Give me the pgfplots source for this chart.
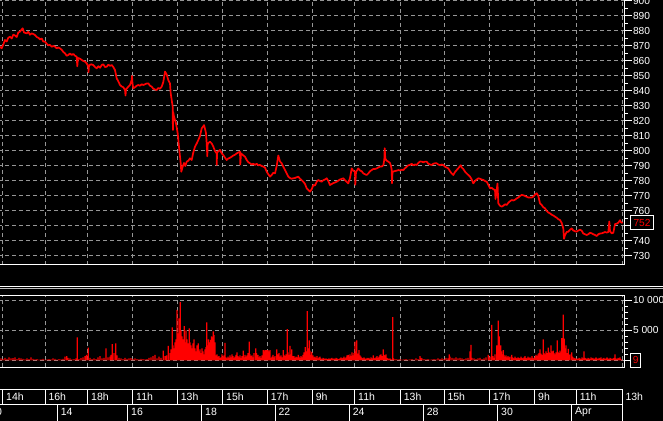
\documentclass[border=0pt]{standalone}
\usepackage{pgfplots}
\pgfplotsset{compat=1.18}
\usepackage{fontspec}
\setmainfont{Liberation Sans}
\definecolor{gridgray}{RGB}{150,150,150}
\definecolor{sepgray}{RGB}{190,190,190}
\definecolor{chartred}{RGB}{255,0,0}

\pgfplotstableread{
x v
0 869.5
1.7 868.5
3.3 871
5 874
6.7 873
8.3 875.5
10 876.2
11.7 875
13.3 877.5
15 877
16.7 876
18.3 879
20 879.6
21.7 881
22.7 881.8
24 879
26.7 878.4
28.3 879.5
30 877.5
31.7 878.4
33.3 878
35 877.3
36.7 876
38.3 875.5
40 874.4
41.7 875
43.3 873
45 872.9
46.7 871.5
48.3 870.5
50 870.7
51.7 869.5
53.3 870
55 869.6
56.7 868.5
58.3 869
60 868.4
61.7 867.5
63.3 866
65 865.1
66.7 863.5
68.3 864
70 865
71.7 864
73.3 864.7
75 863.5
76.7 862.9
77.3 856.5
78 862
80 861.5
81.7 860.7
83.3 860
85 859.6
86.7 858.5
88.3 856.2
88.5 852.5
89 857
91 857.8
93.3 857.3
95 856
96.7 855.1
98.3 856.5
100 855.5
101.7 857.3
103.3 857.8
105 856
106.7 856.2
108.3 857.5
110 856.8
111.7 857.3
113.3 856
115 854
116.7 848.4
118.3 846.5
120 844
121.7 843
123.3 842.5
125 840.7
125.5 837
126 841
128.3 842.9
130 844
131.7 847.3
132 850
132.5 845
133.3 841.8
135 842.5
136.7 843.5
138.3 844
140 843.5
141.7 844.5
143.3 844
145 844.5
146.7 845
148.3 845.1
150 843.5
151.7 842.9
153.3 841.5
155 841
156.7 840.7
158.3 842
160 841.5
161.7 842.9
163.3 846
165 852.9
166.7 851
168.3 847.3
170 845
170.7 838.4
172.7 829.5
172.9 814
173.2 826
174 822.9
176 818.4
177.7 811.8
179.3 800.7
180.7 791.8
181.3 786.2
182.7 789.6
184 792
185.3 790
186.7 792.9
188.3 793.5
190 795.1
191.7 794
193.3 799
195 802.9
196.7 805
198.3 807.3
200 810
201.7 815.1
203.3 816.5
204 817.3
205.3 814
206 811.8
206.7 805.1
207.3 796.5
207.7 805
210 806.2
211.7 805
213.3 802.9
215 800
216.7 798.4
216.8 790.7
217 799
220 800.7
221.7 798.5
223.3 797.3
225 795.5
226.7 794
228.3 795
230 795.5
231.7 796.2
233.3 797
235 797.5
236.7 798.4
238.3 799
240 799.5
240.3 791
241 798.5
243.3 797
245 796.2
246.7 794
248.3 792.5
250 791.8
251.7 791
253.3 791.5
255 790.7
256.7 791.5
258.3 790.5
260 790.7
261.7 790
263.3 789.6
265 789
266.7 786.2
268.3 784.5
270 782.9
271.7 784
273.3 785.5
275 785.1
276.7 790
278.3 797
280 793
281.7 791.8
283.3 789.5
285 787.3
286.7 785
288.3 782.9
290 782
291.7 781.5
293.3 781.8
295 782
296.7 782.5
298.3 782.9
300 781.5
301.7 780.5
303.3 779.5
305 778
306.7 775.1
308.3 774
310 772.9
311.7 774.5
313.3 777.3
315 777
316.7 779.5
318.3 780.7
320 780
321.7 779.5
323.3 780.5
325 781
326.7 781.8
328.3 780
330 777.3
333 778.5
336.7 779.5
340 781
343.3 781.8
345 780.5
348.3 778.4
350 782
351.7 788.4
353 787
355 786.2
355.3 777.5
356 786
358.3 788.4
360 787
361.7 786.5
363.3 785.1
365 784.5
366.7 784
368.3 785
370 786.5
371.7 787.3
373.3 788
375 788
376.7 788.4
378.3 789
380 789.6
381.7 789.6
383.3 790.5
384.3 794
384.7 801.8
385.3 795
386.7 793.5
388.3 792.9
390 792
391 790
391.7 787.3
392 778.5
392.5 786
394 786.5
396.7 786.9
398.3 787.3
400 787
401.7 787.5
403.3 787.3
405 788.5
406.7 789.5
408.3 790.5
410 790.7
411.7 791.5
413.3 790.5
415 791
416.7 790.7
418.3 792
420 793
421.7 792.9
423.3 792.5
425 792.9
426.7 792.9
428.3 791.5
430 791
431.7 790.7
433.3 791.5
435 791.8
436.7 791.8
438.3 791
440 790.5
441.7 791
443.3 790.7
445 789.5
446.7 789
448.3 788.4
450 786.5
451.7 785
453.3 784
455 786
456.7 787.3
458.3 788.5
460.7 790.5
461.7 789
463.3 788
465 786.2
466.7 785
468.3 784
470 782.9
471.7 781
473.3 778.4
475 780
476.7 781
478.3 781.8
480 781.5
481.7 781
483.3 780.7
485 780
486.7 779.5
488.3 777.5
490 775.1
491.7 775.5
493.3 774.5
495 774
495.5 768
496.7 774
497.5 778.4
498.3 765.1
500 763.5
501.7 762.9
503.3 763.5
505 764.5
506.7 764
508.3 765.5
510 766.5
511.7 767.3
513.3 767
515 767.5
516.7 768.4
518.3 769
520 770
521.7 770.7
523.3 770.5
525 770
526.7 769.5
528.3 769
530 769
531.7 769
533.3 769.5
535 771
536.7 771.8
538.3 770
540 765.1
541.7 764
543.3 762.5
545 761.8
546.7 760
548.3 759
550 758.4
551.7 757.5
553.3 757
555 756.2
556.7 755.5
558.3 754.5
560 754
561.7 752
563.3 748.4
564 741.5
565 744
566.7 746
568.3 746.2
570 747.5
571.7 748.4
573.3 747
575 746.5
576.7 746.2
578.3 747
580 747.5
581.7 746.9
583.3 745
585 744.5
586.7 744
588.3 744.5
590 745.5
591.7 745.1
593.3 744.5
595 744
596.7 743.3
598.3 744.5
600 745
601.7 745.1
603.3 745.5
605 746
606.7 745.6
608.3 746
609.3 753
610 746.5
611.7 745.1
613.3 745.5
615 751.3
616.7 751.5
618.3 752.2
620 753.8
621 752.5
622.5 752
}\pricedata

\pgfplotstableread{
x v
1 300
3 200
5 400
7 250
9 500
11 300
13 350
15 500
17 200
19 400
21 300
23 250
25 150
27 300
29 200
31 500
33 250
35 150
37 200
39 100
41 150
43 250
45 100
47 150
49 200
51 150
53 300
55 250
57 100
59 200
61 150
63 250
65 600
66.7 700
68 400
70 300
72 150
74 200
76 300
77.3 3800
79 200
81 350
83 500
85 700
86.5 900
88.3 2100
90 400
92 200
94 300
96 200
98 500
100 700
102 300
104 400
106 2000
108 500
110 600
111 900
112.3 2700
114 1200
115.7 2800
117 800
119 400
121 300
123 200
125 400
127 250
129 300
131 350
133 200
135 300
137 200
139 150
141 250
143 200
145 150
147 200
149 400
151 500
153 700
155 900
157 300
159 600
161 400
163.3 1600
165 700
166.5 800
168.3 2400
170 1200
171 1800
172.3 5500
173 2500
174 2000
175 3000
176 3500
177 8400
178 4500
179 7000
180.3 9700
181 5000
182 4000
183 3500
184.3 5700
185 3000
186 5000
187 3500
188 2800
189.3 5300
190 3000
191 2500
192 2000
193 2800
194 3500
195 2000
196 1500
197 2500
198.3 2800
199 1500
200 1800
201 1200
202 2000
203 1500
204 1000
205 1800
206 2200
206.7 6300
207.5 2500
208.5 3500
209.5 3000
210.5 3400
211.5 4000
212.5 3800
213.3 4800
214 4200
215 3000
216 800
217 1000
218 600
219 700
220 400
221 500
222 1000
223 600
224 800
225 2900
226 500
227 300
228 600
229 400
230 800
231 500
232 1000
233 700
234 400
235 600
236 900
237 1300
238 700
239 500
240 800
241 400
242 700
243.3 1600
244 500
245 900
246 600
247 800
248 1200
249.3 3100
250 1000
251 700
252 800
253 500
254 1200
255.7 2000
256.5 1200
257 700
258 900
259 500
260 700
261 400
262 800
263.3 1700
264 1500
265 1700
266 1700
267 1700
268 1700
269 1500
270 1700
271 400
272 600
273 900
274 500
275 700
276.7 1800
277.5 1000
278.5 700
279 1200
280 600
281 800
282 500
283.3 1700
284 900
285 700
286 1000
287.3 5200
288 1300
289 900
290 2400
291 1000
291.7 1800
292.5 700
293 500
294 700
295 400
296 600
297 500
298.3 900
299 600
300 400
301 700
302 500
303 900
304 1300
305.3 2200
306 1500
307.3 8200
308 2000
309.3 3300
310 1600
311 900
311.7 1400
312.5 600
313 800
314 500
315 600
316 400
317 700
318 300
319 500
320 600
321 300
322 200
323 400
324 300
325 200
326 300
327 200
328 250
329 300
330 200
331 300
332 400
333 200
334 300
335 200
336 400
337 300
338 200
339 250
340 300
341 500
342 300
343 400
344 600
345 300
346 500
347 800
348.3 900
349 600
350 1000
351 700
352 1300
353 800
354 1200
355 3100
356 1500
356.7 3300
357.5 1000
358.3 1100
359 1700
360 800
361 600
362 400
363 300
364 500
365 300
366 200
367 400
368 300
369 400
370 200
371 500
372 300
373.3 800
374 400
375 300
376 500
377 700
378 400
379 600
380 900
381 1000
382 700
383.3 1800
384 900
385 800
386 1000
387 400
388 300
389 200
390 300
391 200
392.7 7200
393.5 300
394 200
396 200
398 150
400 200
402 100
404 150
406 200
408 100
410 150
412 200
414 100
416 300
418 200
420 700
421 400
422 300
424 200
426 150
428 200
430 100
432 150
434 200
436 150
438 300
440 200
442 300
444 200
446 400
448 300
449.3 1000
450 600
452 400
454 300
456 500
458 300
460 400
462 300
464 200
466 300
468 400
470 1500
471 2550
472 400
474 300
476 200
478 300
480 400
482 200
484 300
486 500
488.3 900
489 400
490 600
491.7 5900
492.5 500
493 700
494 400
495 1000
496.7 2500
497.5 1800
498.3 6600
499.3 4000
500 2000
500.7 2500
501.5 1500
502 1000
503.3 1700
504 900
505 600
506 800
507 500
508 700
509 500
510 600
511.7 900
512.5 500
513 400
514 300
515 600
516 400
517 300
518 500
519 400
520 300
521 600
522 400
523 300
524 500
525 700
526 400
527 300
528 600
529 400
530 500
531 300
532 700
533 400
534 300
535 600
536 900
537 700
538 1000
539 1200
540 1800
541 1100
542 900
543.3 3500
544 1200
545 1000
546 1500
547 1200
548.3 2100
549 1400
550 1200
551 2500
552 1500
553.3 1600
554 1200
555 1000
556 1300
557.3 3300
558 1400
559 1200
560 1600
561 1300
561.7 3700
562.5 2500
563.3 7600
564.3 3600
565 2000
566 2500
567 1200
568.3 1900
569 900
570 1000
571.7 1300
572.5 600
573 500
574 300
575 400
576 200
577 300
578 200
579 400
580 300
581 200
582 500
583 300
584 1500
585 400
586 300
587 200
588 400
589 300
590 200
591 500
592 300
593 400
594 200
595 300
596 500
597 300
598 200
599 400
600 300
601 500
602 200
603 300
604 400
605 200
606 300
607 500
608 300
609 200
610 400
611 300
612 200
613 300
614 400
615 1000
616 300
617 200
618 400
619 300
620 500
621 200
622 9
}\voldata

\begin{document}
\begin{tikzpicture}[x=1pt,y=1pt]
\fill[black] (-30,-30) rectangle (700,450);

% ---------- price panel ----------
\begin{axis}[
  at={(-2pt,155.2pt)}, anchor=south west,
  scale only axis, width=626.8pt, height=267.8pt,
  xmin=-2, xmax=624.8, ymin=724.13, ymax=902.67,
  axis line style={white, line width=1pt},
  xtick={2.7,45.3,87.7,132.7,177.3,222.5,267.3,312.3,354.8,400.5,444.3,489.3,534.5,576.5,622.3},
  xticklabels={},
  x tick style={draw=none},
  ytick={730,740,750,760,770,780,790,800,810,820,830,840,850,860,870,880,890,900},
  yticklabels={730,740,,760,770,780,790,800,810,820,830,840,850,860,870,880,890,900},
  minor ytick={735,745,755,765,775,785,795,805,815,825,835,845,855,865,875,885,895},
  scaled y ticks=false,
  ytick pos=right, yticklabel pos=right,
  tick align=outside,
  major tick length=6.7pt, minor tick length=3.3pt,
  y tick style={white, line width=1pt},
  yticklabel style={text=white, font=\fontsize{10.2}{12}\selectfont, anchor=west, xshift=-2pt},
  xmajorgrids, ymajorgrids,
  major grid style={gridgray, line width=1pt, dash pattern=on 4pt off 3pt},
  clip=false,
]
\addplot[chartred, line width=1.7pt, line join=round] table[x=x,y=v] {\pricedata};
\node[draw=white, line width=1pt, fill=black, text=chartred, anchor=west,
      minimum width=23pt, minimum height=14.5pt, inner sep=1pt,
      font=\fontsize{10.2}{12}\selectfont] at (axis cs:624.8,752.2) [xshift=5.2pt] {752};
\end{axis}

% ---------- panel separator ----------
\draw[white, line width=1.5pt] (-5,133.6) -- (670,133.6);
\draw[sepgray, line width=1.5pt] (-5,131.7) -- (670,131.7);

% ---------- volume panel ----------
\begin{axis}[
  at={(-2pt,52.7pt)}, anchor=south west,
  scale only axis, width=626.8pt, height=71.8pt,
  xmin=-2, xmax=624.8, ymin=-1167, ymax=10800,
  axis line style={white, line width=1pt},
  xtick={2.7,45.3,87.7,132.7,177.3,222.5,267.3,312.3,354.8,400.5,444.3,489.3,534.5,576.5,622.3},
  xticklabels={},
  x tick style={draw=none},
  ytick={0,5000,10000},
  yticklabels={,5 000,10 000},
  scaled y ticks=false,
  minor ytick={1000,2000,3000,4000,6000,7000,8000,9000},
  ytick pos=right, yticklabel pos=right,
  tick align=outside,
  major tick length=6.7pt, minor tick length=3.3pt,
  y tick style={white, line width=1pt},
  yticklabel style={text=white, font=\fontsize{10.2}{12}\selectfont, anchor=west, xshift=-2pt},
  xmajorgrids, ymajorgrids,
  major grid style={gridgray, line width=1pt, dash pattern=on 4pt off 3pt},
  clip=false,
]
\addplot[ybar, bar width=1.15pt, fill=chartred, draw=none] table[x=x,y=v] {\voldata};
\node[draw=white, line width=1pt, fill=black, text=chartred, anchor=west,
      minimum width=10pt, minimum height=14.5pt, inner sep=1pt,
      font=\fontsize{10.2}{12}\selectfont] at (axis cs:624.8,0) [xshift=5.5pt] {9};
\end{axis}

% ---------- time strip, row 1 ----------
\begin{axis}[
  at={(-2pt,15.7pt)}, anchor=south west,
  scale only axis, width=624pt, height=15pt,
  xmin=-2, xmax=622, ymin=0, ymax=1,
  axis line style={white, line width=1pt},
  xtick={2.7,45,87.7,132.7,177.3,222.7,267.3,312.3,354.7,400.3,444,489.3,534.7,576.3,622},
  xticklabels={14h,16h,18h,11h,13h,15h,17h,9h,11h,13h,15h,17h,9h,11h,13h},
  xtick pos=left, xticklabel pos=left,
  tick align=inside, major tick length=15pt,
  x tick style={white, line width=1pt},
  ytick=\empty,
  xticklabel style={text=white, font=\fontsize{10.5}{12}\selectfont, anchor=west, yshift=7.5pt},
  clip=false,
]
\end{axis}

% ---------- time strip, row 2 ----------
\begin{axis}[
  at={(-15pt,-2pt)}, anchor=south west,
  scale only axis, width=637pt, height=17.7pt,
  xmin=-15, xmax=622, ymin=0, ymax=1,
  axis line style={white, line width=1pt},
  xtick={-13.3,57.3,127.7,201.7,275,349.3,423.3,497.7,571.7},
  xticklabels={10,14,16,18,22,24,28,30,Apr},
  xtick pos=left, xticklabel pos=left,
  tick align=inside, major tick length=17.7pt,
  x tick style={white, line width=1pt},
  ytick=\empty,
  xticklabel style={text=white, font=\fontsize{10.5}{12}\selectfont, anchor=west, yshift=9.8pt},
  clip=false,
]
\end{axis}

\pgfresetboundingbox
\path[use as bounding box] (0,0) rectangle (663,420);
\end{tikzpicture}
\end{document}
